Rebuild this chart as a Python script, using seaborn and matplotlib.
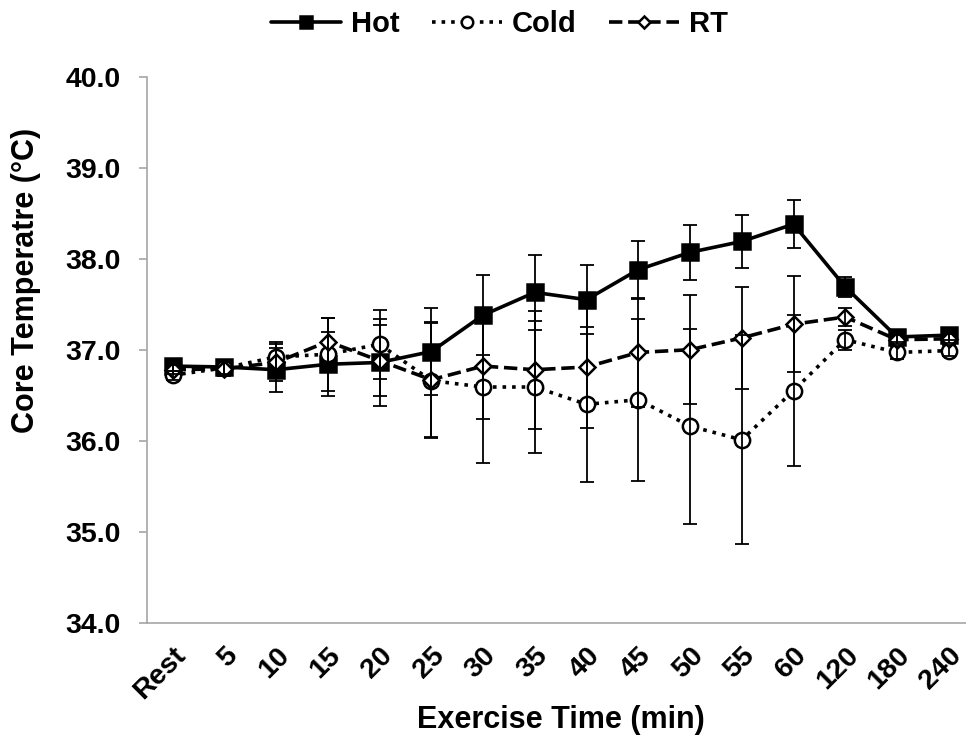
import numpy as np
import matplotlib
matplotlib.use("Agg")
import matplotlib.pyplot as plt
import seaborn as sns

# time points on the x axis
times = ['Rest', '5', '10', '15', '20', '25', '30', '35', '40', '45', '50', '55', '60', '120', '180', '240']

# mean core temperature per condition (°C)
hot_mean = [36.82, 36.81, 36.78, 36.84, 36.86, 36.98, 37.38, 37.63, 37.55, 37.88, 38.07, 38.19, 38.38, 37.69, 37.14, 37.16]
cold_mean = [36.72, 36.80, 36.92, 36.95, 37.06, 36.66, 36.59, 36.59, 36.40, 36.45, 36.16, 36.01, 36.55, 37.11, 36.97, 36.99]
rt_mean = [36.78, 36.79, 36.86, 37.09, 36.88, 36.67, 36.82, 36.78, 36.81, 36.97, 37.00, 37.13, 37.28, 37.36, 37.11, 37.12]

# standard deviations (error bars)
hot_sd = [0.05, 0.08, 0.24, 0.35, 0.48, 0.48, 0.44, 0.41, 0.38, 0.32, 0.30, 0.29, 0.26, 0.11, 0.05, 0.05]
cold_sd = [0.05, 0.08, 0.16, 0.40, 0.38, 0.63, 0.84, 0.73, 0.85, 0.89, 1.07, 1.15, 0.83, 0.11, 0.07, 0.06]
rt_sd = [0.05, 0.08, 0.20, 0.26, 0.39, 0.63, 0.58, 0.65, 0.67, 0.60, 0.60, 0.56, 0.53, 0.10, 0.05, 0.05]

sns.set_style("white")
plt.rcParams['font.family'] = ['Liberation Sans', 'DejaVu Sans']
plt.rcParams['font.weight'] = 'bold'
plt.rcParams['text.color'] = 'black'
plt.rcParams['axes.labelcolor'] = 'black'
plt.rcParams['xtick.color'] = 'black'
plt.rcParams['ytick.color'] = 'black'

fig = plt.figure(figsize=(9.66, 7.35), dpi=100)
ax = fig.add_axes([0.1519, 0.1528, 0.857, 0.7428])

pos = np.arange(len(times))
axis_grey = '#a6a6a6'

series = [
    ('Hot', hot_mean, hot_sd, '-', 's', 'black', 11),
    ('Cold', cold_mean, cold_sd, ':', 'o', 'white', 11),
    ('RT', rt_mean, rt_sd, '--', 'D', 'white', 8),
]

for name, mean, sd, ls, mk, face, ms in series:
    sns.lineplot(x=pos, y=mean, ax=ax, label=name, color='black', linestyle=ls,
                 linewidth=2.6, marker=mk, markersize=ms, markerfacecolor=face,
                 markeredgecolor='black', markeredgewidth=1.8, zorder=3)
    ax.errorbar(pos, mean, yerr=sd, fmt='none', ecolor='black', elinewidth=1.3,
                capsize=5, capthick=1.3, zorder=4)

ax.set_xlim(-0.5, len(times) - 0.5)
ax.set_ylim(34, 40)
ax.set_yticks(np.arange(34, 40.1, 1))
ax.set_yticklabels([f"{v:.1f}" for v in np.arange(34, 40.1, 1)], fontsize=20.5, fontweight='bold')
ax.set_xticks(pos)
ax.set_xticklabels(times, fontsize=20.5, fontweight='bold', rotation=45, ha='right',
                   rotation_mode='anchor')
ax.set_xticks(np.arange(-0.5, len(times)), minor=True)
ax.tick_params(axis='x', which='major', length=0, pad=14)
ax.tick_params(axis='x', which='minor', length=7, width=1.2, color=axis_grey, direction='out')
ax.tick_params(axis='y', length=6, width=1.2, color=axis_grey, direction='out', pad=13, left=True)

for side in ['top', 'right']:
    ax.spines[side].set_visible(False)
for side in ['left', 'bottom']:
    ax.spines[side].set_color(axis_grey)
    ax.spines[side].set_linewidth(1.2)

ax.set_xlabel("Exercise Time (min)", fontsize=22, fontweight='bold')
ax.set_ylabel("Core Temperatre (°C)", fontsize=22, fontweight='bold')
ax.xaxis.set_label_coords(0.5, -0.150)
ax.yaxis.set_label_coords(-0.128, 0.626)

handles, labels = ax.get_legend_handles_labels()
ax.get_legend().remove()
fig.legend(handles, labels, loc='upper center', bbox_to_anchor=(0.517, 1.022), ncol=3,
           frameon=False, prop={'size': 21, 'weight': 'bold'}, handlelength=2.4,
           columnspacing=1.1, handletextpad=0.35, markerscale=0.75)

fig.savefig("out.png", dpi=100)
